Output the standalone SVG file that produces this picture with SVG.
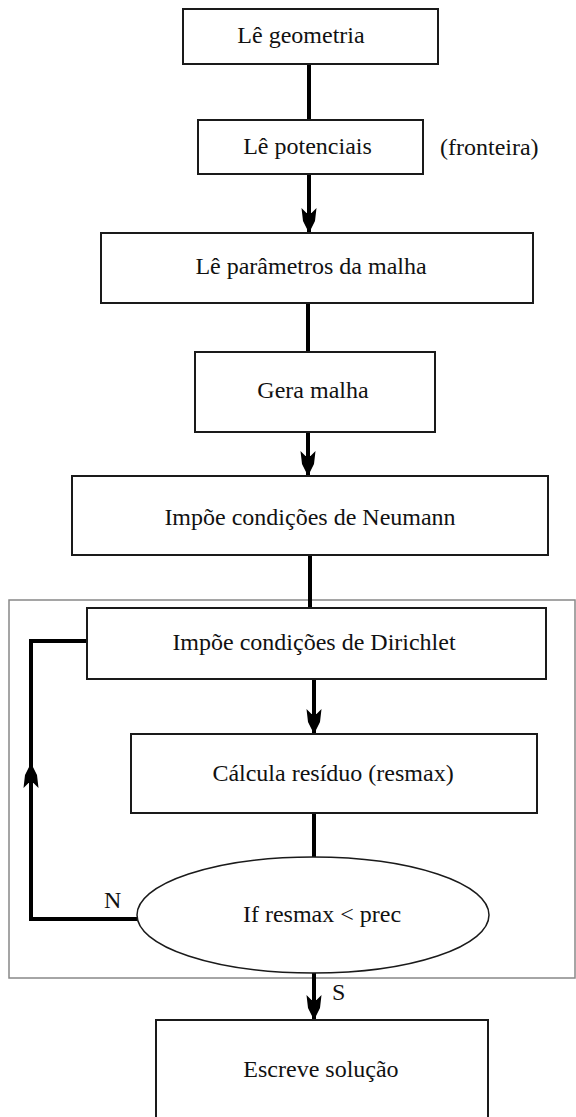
<svg xmlns="http://www.w3.org/2000/svg" width="576" height="1117" viewBox="0 0 576 1117">
<style>
.box{fill:#fff;stroke:#1a1a1a;stroke-width:2}
.t{font-family:"Liberation Serif","Times New Roman",serif;font-size:24px;fill:#111;text-anchor:middle}
.tl{font-family:"Liberation Serif","Times New Roman",serif;font-size:24px;fill:#111}
.c{fill:none;stroke:#000;stroke-width:4}
.frame{fill:none;stroke:#888;stroke-width:1.5}
</style>
<defs>
<marker id="ah" markerUnits="userSpaceOnUse" markerWidth="18" markerHeight="30" viewBox="-9 -28 18 30" refX="0" refY="0" orient="auto" overflow="visible">
<path d="M0,0 L-6,-12 L-7.5,-25 L-2.5,-20 L2.5,-20 L7.5,-25 L6,-12 Z" fill="#000" transform="rotate(-90)"/>
</marker>
</defs>
<rect class="frame" x="9" y="600" width="566" height="378"/>
<g id="connectors">
<line class="c" x1="309" y1="64" x2="309" y2="120"/>
<line class="c" x1="309" y1="174" x2="309" y2="233" marker-end="url(#ah)"/>
<line class="c" x1="308" y1="303" x2="308" y2="352"/>
<line class="c" x1="308" y1="432" x2="308" y2="476" marker-end="url(#ah)"/>
<line class="c" x1="310" y1="555" x2="310" y2="608"/>
<line class="c" x1="314" y1="679" x2="314" y2="734" marker-end="url(#ah)"/>
<line class="c" x1="314" y1="813" x2="314" y2="857"/>
<line class="c" x1="314" y1="973" x2="314" y2="1020" marker-end="url(#ah)"/>
<polyline class="c" points="137,919 31,919 31,641 87,641"/>
<line class="c" x1="31" y1="800" x2="31" y2="763" marker-end="url(#ah)"/>
</g>
<g id="n1"><rect class="box" x="183" y="9" width="255" height="55"/><text class="t" x="301" y="43">Lê geometria</text></g>
<g id="n2"><rect class="box" x="198" y="120" width="225" height="54"/><text class="t" x="307.5" y="154">Lê potenciais</text></g>
<g id="lbl-fronteira"><text class="tl" x="440" y="155">(fronteira)</text></g>
<g id="n3"><rect class="box" x="101" y="233" width="432" height="70"/><text class="t" x="311" y="274">Lê parâmetros da malha</text></g>
<g id="n4"><rect class="box" x="195" y="352" width="240" height="80"/><text class="t" x="313" y="398">Gera malha</text></g>
<g id="n5"><rect class="box" x="72" y="476" width="476" height="79"/><text class="t" x="310" y="525">Impõe condições de Neumann</text></g>
<g id="n6"><rect class="box" x="87" y="608" width="459" height="71"/><text class="t" x="314" y="650">Impõe condições de Dirichlet</text></g>
<g id="n7"><rect class="box" x="131" y="734" width="406" height="79"/><text class="t" x="333" y="781">Cálcula resíduo (resmax)</text></g>
<g id="n8"><ellipse cx="313" cy="915" rx="176" ry="58" fill="#fff" stroke="#1a1a1a" stroke-width="1.5"/><text class="t" x="322" y="922">If resmax &lt; prec</text></g>
<g id="lbl-N"><text class="tl" x="104" y="908">N</text></g>
<g id="lbl-S"><text class="tl" x="332" y="1000">S</text></g>
<g id="n9"><rect class="box" x="156" y="1020" width="332" height="110"/><text class="t" x="321" y="1077">Escreve solução</text></g>
</svg>
